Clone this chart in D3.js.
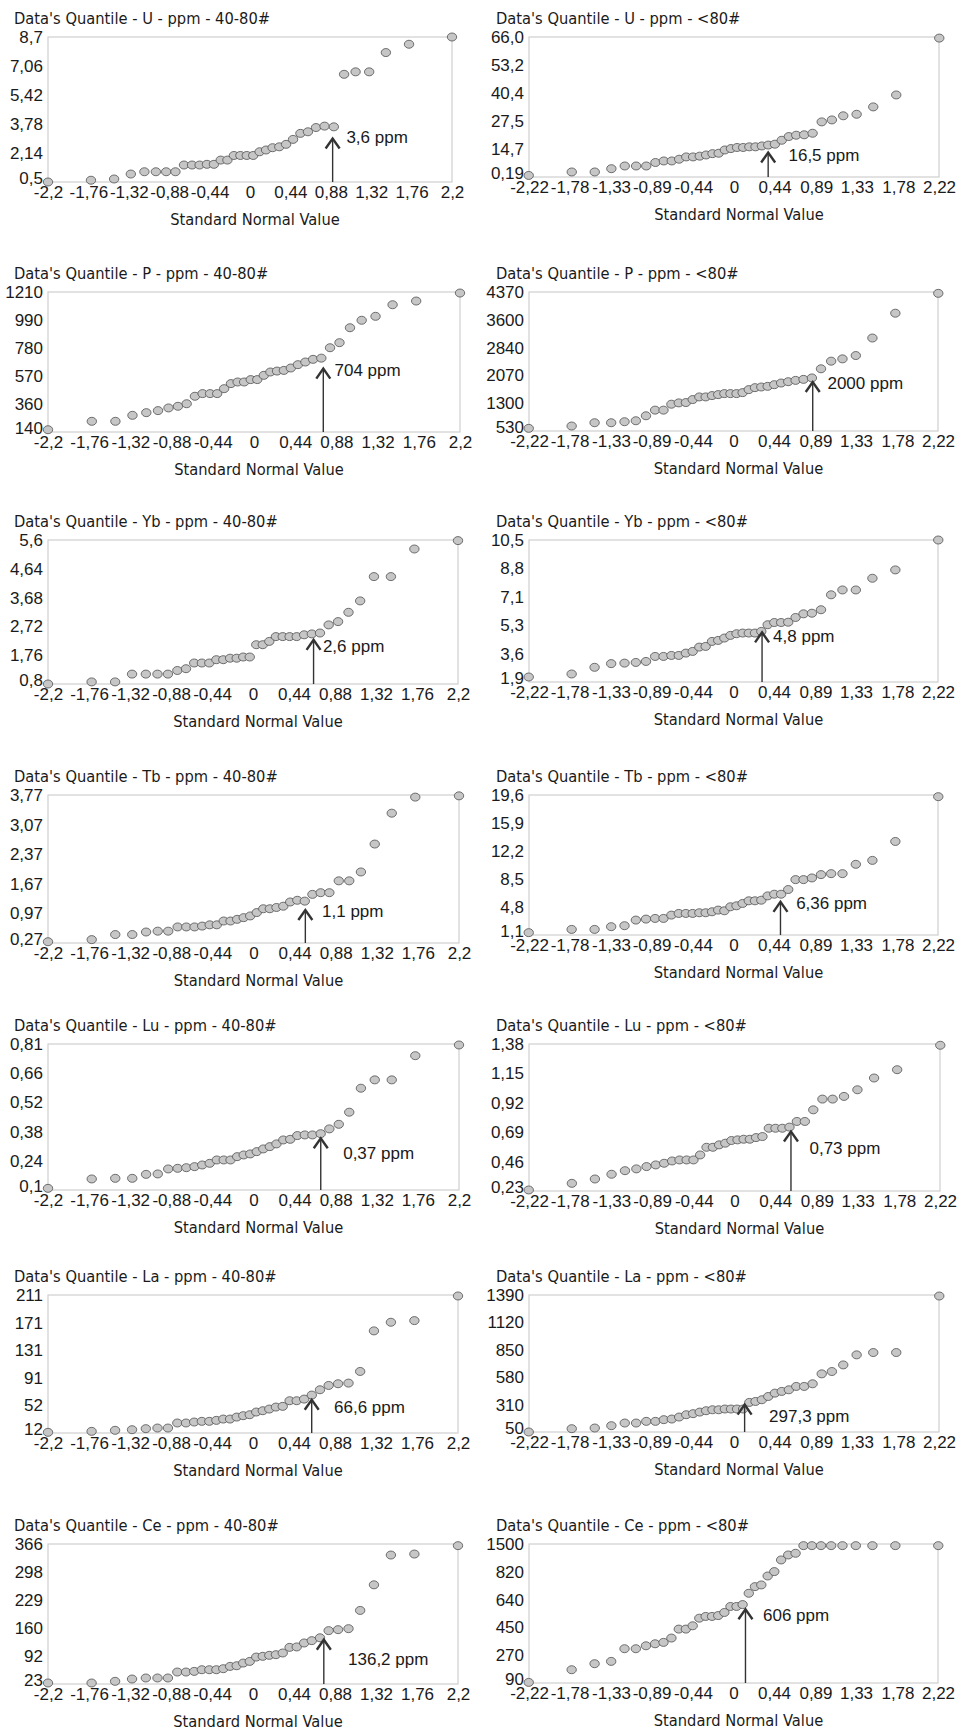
<!DOCTYPE html>
<html><head><meta charset="utf-8">
<script src="https://cdn.jsdelivr.net/npm/d3@7"></script>
<style>
body{margin:0;background:#fff;}
svg{display:block;}
.title,.axtitle{font-family:'DejaVu Sans',sans-serif;font-size:16.5px;fill:#1a1a1a;}
.tick text,.ann{font-family:'Liberation Sans',Arial,sans-serif;font-size:17px;fill:#1a1a1a;}
</style></head><body>
<svg id="chart" width="968" height="1733"></svg>
<script>
// ---------- DATA ----------
const elements = ["U","P","Yb","Tb","Lu","La","Ce"];
const fractions = ["40-80#","<80#"];

// standard normal quantiles of the plotting positions
const zQuantiles36 = [-2.200,-1.732,-1.480,-1.298,-1.150,-1.025,-0.913,-0.812,-0.719,-0.631,-0.549,-0.469,-0.393,-0.319,-0.246,-0.175,-0.105,-0.035,0.035,0.105,0.175,0.246,0.319,0.393,0.469,0.549,0.631,0.719,0.812,0.913,1.025,1.150,1.298,1.480,1.732,2.200];
const zQuantiles38 = [-2.223,-1.757,-1.508,-1.328,-1.183,-1.060,-0.950,-0.851,-0.760,-0.674,-0.594,-0.517,-0.443,-0.371,-0.302,-0.233,-0.166,-0.099,-0.033,0.033,0.099,0.166,0.233,0.302,0.371,0.443,0.517,0.594,0.674,0.760,0.851,0.950,1.060,1.183,1.328,1.508,1.757,2.223];

const xTickLabels4080 = ["-2,2","-1,76","-1,32","-0,88","-0,44","0","0,44","0,88","1,32","1,76","2,2"];
const xTickLabelsLt80 = ["-2,22","-1,78","-1,33","-0,89","-0,44","0","0,44","0,89","1,33","1,78","2,22"];

const U_4080  = [0.5,0.6,0.67,0.95,1.08,1.08,1.08,1.08,1.46,1.46,1.46,1.5,1.5,1.74,1.74,2.0,2.0,2.0,2.0,2.21,2.31,2.44,2.49,2.63,2.91,3.25,3.34,3.58,3.66,3.62,6.59,6.73,6.73,7.82,8.29,8.7];
const U_lt80  = [1.0,2.8,2.8,4.5,5.9,5.9,5.9,7.7,8.5,8.5,9.4,10.6,10.6,11.0,11.6,12.3,12.5,14.2,14.9,15.4,15.4,15.7,15.7,16.1,16.5,16.9,18.7,20.4,21.0,21.2,21.9,27.1,28.0,29.9,30.6,34.0,39.5,65.5];
const P_4080  = [158,224,224,271,292,308,329,342,362,418,438,438,438,475,513,525,525,543,543,575,600,607,612,630,655,675,695,704,782,820,932,988,1019,1110,1139,1202];
const P_lt80  = [603,668,759,759,787,814,952,1108,1108,1272,1309,1318,1401,1474,1474,1511,1538,1566,1566,1566,1593,1676,1731,1749,1767,1813,1859,1896,1932,1960,2000,2253,2464,2528,2620,3102,3783,4333];
const Yb_4080 = [0.8,0.87,0.87,1.13,1.13,1.13,1.13,1.25,1.31,1.5,1.5,1.5,1.61,1.61,1.66,1.66,1.7,1.7,2.11,2.11,2.22,2.38,2.38,2.38,2.38,2.44,2.47,2.5,2.77,2.88,3.19,3.57,4.38,4.38,5.3,5.58];
const Yb_lt80 = [2.2,2.38,2.78,3.0,3.03,3.07,3.13,3.43,3.43,3.49,3.49,3.63,3.73,3.99,4.03,4.33,4.39,4.53,4.69,4.79,4.83,4.83,4.83,4.93,5.33,5.47,5.47,5.49,5.79,6.02,6.06,6.28,7.22,7.51,7.51,8.21,8.71,10.5];
const Tb_4080 = [0.3,0.35,0.47,0.47,0.53,0.55,0.55,0.65,0.65,0.65,0.67,0.70,0.70,0.79,0.79,0.83,0.87,0.91,0.99,1.08,1.08,1.11,1.14,1.24,1.28,1.26,1.42,1.46,1.46,1.74,1.74,1.95,2.61,3.34,3.72,3.75];
const Tb_lt80 = [1.41,1.84,1.84,2.2,2.33,3.07,3.2,3.29,3.29,3.73,3.95,3.95,3.95,4.04,4.04,4.17,4.39,4.3,4.83,4.96,5.27,5.62,5.62,5.7,6.27,6.49,6.49,7.11,8.42,8.42,8.64,9.08,9.21,9.21,10.44,10.96,13.46,19.38];
const Lu_4080 = [0.108,0.153,0.156,0.156,0.175,0.177,0.201,0.204,0.207,0.212,0.22,0.228,0.244,0.244,0.244,0.26,0.268,0.273,0.284,0.297,0.308,0.321,0.34,0.343,0.361,0.364,0.364,0.37,0.393,0.415,0.473,0.588,0.628,0.628,0.75,0.805];
const Lu_lt80 = [0.238,0.29,0.324,0.361,0.389,0.403,0.421,0.434,0.447,0.465,0.473,0.473,0.473,0.512,0.572,0.572,0.591,0.604,0.625,0.63,0.635,0.635,0.648,0.656,0.721,0.721,0.721,0.73,0.774,0.774,0.865,0.949,0.949,0.97,1.022,1.114,1.179,1.37];
const La_4080 = [13,14.4,15.9,16.8,18.3,19.2,19.2,26.5,26.5,27.9,28.9,28.9,30.3,32.2,32.2,35.1,37.1,38.5,42.4,44.3,46.7,49.6,50.6,58.6,58.6,60.9,66.6,74.1,80.2,82.6,83.5,100.2,159,171.5,173.9,209.6];
const La_lt80 = [50,81.5,87.8,110,135,135,151,151,167,173,192,214,224,239,252,261,261,268,268,268,268,331.6,341,358,390,423,440,456,489,489,515,613,636,701,800,823,823,1380];
const Ce_4080 = [25.5,25.5,29.6,35.3,37.8,37.8,37.8,52.5,52.5,54.1,58.2,58.2,58.2,60.7,66.4,68,74.6,78.7,89.4,91.2,93.6,95.2,99.3,113,114,123.6,129.3,136.2,153.6,156,158.4,203.3,266.4,339.2,341.6,362];
const Ce_lt80 = [94,176,215,230,312,312,331,344,353,381,439,439,461,513,525,525,531,552,593,593,606,681,724,735,793,825,1110,1232,1273,1460,1460,1460,1460,1460,1460,1460,1460,1460];

// y tick labels (evenly spaced on each axis)
const yTicks_U_4080  = ["0,5","2,14","3,78","5,42","7,06","8,7"];
const yTicks_U_lt80  = ["0,19","14,7","27,5","40,4","53,2","66,0"];
const yTicks_P_4080  = ["140","360","570","780","990","1210"];
const yTicks_P_lt80  = ["530","1300","2070","2840","3600","4370"];
const yTicks_Yb_4080 = ["0,8","1,76","2,72","3,68","4,64","5,6"];
const yTicks_Yb_lt80 = ["1,9","3,6","5,3","7,1","8,8","10,5"];
const yTicks_Tb_4080 = ["0,27","0,97","1,67","2,37","3,07","3,77"];
const yTicks_Tb_lt80 = ["1,1","4,8","8,5","12,2","15,9","19,6"];
const yTicks_Lu_4080 = ["0,1","0,24","0,38","0,52","0,66","0,81"];
const yTicks_Lu_lt80 = ["0,23","0,46","0,69","0,92","1,15","1,38"];
const yTicks_La_4080 = ["12","52","91","131","171","211"];
const yTicks_La_lt80 = ["50","310","580","850","1120","1390"];
const yTicks_Ce_4080 = ["23","92","160","229","298","366"];
const yTicks_Ce_lt80 = ["90","270","450","640","820","1500"];

// threshold arrows (panel order: row by row, left then right)
const annText  = ["3,6 ppm","16,5 ppm","704 ppm","2000 ppm","2,6 ppm","4,8 ppm","1,1 ppm","6,36 ppm","0,37 ppm","0,73 ppm","66,6 ppm","297,3 ppm","136,2 ppm","606 ppm"];
const annZ     = [0.90,0.37,0.74,0.86,0.65,0.31,0.555,0.51,0.72,0.61,0.63,0.115,0.76,0.13];
const annTip   = [2.96,12.9,625,1887,2.27,4.87,1.05,5.48,0.348,0.695,60,310,131.6,574];
const annTextZ = [1.05,0.59,0.86,1.02,0.75,0.43,0.734,0.68,0.96,0.81,0.87,0.38,1.02,0.32];
const annTextV = [3.06,11.5,612,1859,2.05,4.63,1.02,5.26,0.276,0.565,49.6,198,84.6,536];

// ---------- LAYOUT ----------
const rowTop = [37,292,540,795,1044,1295,1544];
const rowBottom = [[182,177],[432,431],[684,682],[943,935],[1190,1191],[1433,1432],[1684,1683]];
const colLeft = [48,529];
const colRight = [[452,939],[460,938],[458,938],[459,938],[459,940],[458,939],[458,938]];
const titleX = [14,496];

const seriesTable = [
  [U_4080,U_lt80],[P_4080,P_lt80],[Yb_4080,Yb_lt80],[Tb_4080,Tb_lt80],
  [Lu_4080,Lu_lt80],[La_4080,La_lt80],[Ce_4080,Ce_lt80]];
const yTickTable = [
  [yTicks_U_4080,yTicks_U_lt80],[yTicks_P_4080,yTicks_P_lt80],[yTicks_Yb_4080,yTicks_Yb_lt80],
  [yTicks_Tb_4080,yTicks_Tb_lt80],[yTicks_Lu_4080,yTicks_Lu_lt80],[yTicks_La_4080,yTicks_La_lt80],
  [yTicks_Ce_4080,yTicks_Ce_lt80]];

const num = s => parseFloat(s.replace(",", "."));
const svg = d3.select("#chart");

// narrow (Tahoma-like) rendering of the sans titles
function condense(sel) {
  sel.each(function() {
    const w = this.getComputedTextLength();
    d3.select(this).attr("textLength", (w * 0.89).toFixed(1)).attr("lengthAdjust", "spacingAndGlyphs");
  });
}

elements.forEach((el, r) => {
  [0,1].forEach(c => {
    const k = r*2 + c;
    const x0 = colLeft[c], x1 = colRight[r][c], y0 = rowTop[r], y1 = rowBottom[r][c];
    const xLabels = c === 0 ? xTickLabels4080 : xTickLabelsLt80;
    const zs = c === 0 ? zQuantiles36 : zQuantiles38;
    const vals = seriesTable[r][c];
    const yLabels = yTickTable[r][c];
    const yVals = yLabels.map(num);
    const xVals = xLabels.map(num);

    const x = d3.scaleLinear().domain([xVals[0], xVals[xVals.length-1]]).range([x0, x1]);
    const yRange = yVals.map((_, i) => y1 - i*(y1-y0)/(yVals.length-1));
    const y = d3.scaleLinear().domain(yVals).range(yRange);

    const g = svg.append("g");

    g.append("text").attr("class","title")
      .attr("x", titleX[c]).attr("y", y0 - 13)
      .text(`Data's Quantile - ${el} - ppm - ${fractions[c]}`)
      .call(condense);

    g.append("rect").attr("x", x0).attr("y", y0)
      .attr("width", x1-x0).attr("height", y1-y0)
      .attr("fill","#fff").attr("stroke","#cfcfcf").attr("stroke-width",1.2);

    // y axis
    const ya = g.append("g").attr("transform", `translate(${x0},0)`)
      .call(d3.axisLeft(y).tickValues(yVals).tickSize(0).tickPadding(5)
        .tickFormat((d,i) => yLabels[i]));
    ya.select(".domain").remove();
    ya.selectAll(".tick text")
      .attr("transform", (d,i) => `translate(0,${i === 0 ? -4 : 0})`)
      .attr("fill","#1a1a1a");

    // x axis
    const xa = g.append("g").attr("transform", `translate(0,${y1})`)
      .call(d3.axisBottom(x).tickValues(xVals).tickSize(0).tickPadding(4)
        .tickFormat((d,i) => xLabels[i]));
    xa.select(".domain").remove();
    xa.selectAll(".tick text").attr("fill","#1a1a1a");

    g.append("text").attr("class","axtitle")
      .attr("x", (x0+x1)/2 + 5).attr("y", y1 + 43)
      .attr("text-anchor","middle").text("Standard Normal Value")
      .call(condense);

    // points
    g.append("g").selectAll("ellipse").data(vals).join("ellipse")
      .attr("cx", (d,i) => x(zs[i])).attr("cy", d => y(d))
      .attr("rx", 4.7).attr("ry", 4.0)
      .attr("fill","#c6c6c6").attr("stroke","#505050").attr("stroke-width",0.8);

    // arrow
    const ax = x(annZ[k]), ay = y(annTip[k]);
    g.append("line").attr("x1", ax).attr("x2", ax).attr("y1", y1).attr("y2", ay + 1)
      .attr("stroke","#333").attr("stroke-width",1.4);
    g.append("path").attr("d", `M${ax-7},${ay+10}L${ax},${ay}L${ax+7},${ay+10}`)
      .attr("fill","none").attr("stroke","#333").attr("stroke-width",2.4);
    g.append("text").attr("class","ann")
      .attr("x", x(annTextZ[k])).attr("y", y(annTextV[k]))
      .attr("dy","0.35em").text(annText[k]);
  });
});
</script>
</body></html>
